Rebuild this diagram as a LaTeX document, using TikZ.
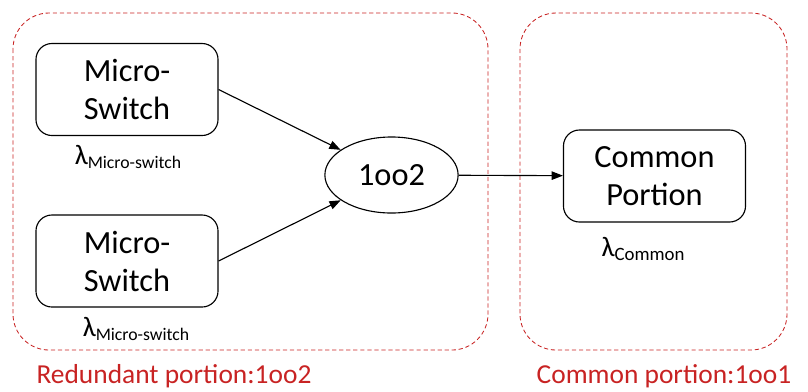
\documentclass[tikz,border=0pt]{standalone}
\usepackage{fontspec}
\setmainfont{Carlito}
\usepackage{tikz}
\usetikzlibrary{positioning}
\usetikzlibrary{shapes}
\usetikzlibrary{arrows.meta}
\definecolor{portred}{RGB}{200,35,35}
\tikzstyle{blk}=[rectangle,rounded corners=4mm,draw=black,line width=0.8pt,minimum width=4.55cm,minimum height=2.3cm,align=center,font=\fontsize{23}{27}\selectfont]
\tikzstyle{vote}=[ellipse,draw=black,line width=0.8pt,minimum width=3.33cm,minimum height=1.9cm,inner sep=0pt,font=\fontsize{23}{27}\selectfont]
\tikzstyle{portion}=[draw=portred,line width=0.6pt,densely dashed,rounded corners=9mm]
\tikzstyle{rate}=[font=\fontsize{20}{24}\selectfont]
\tikzstyle{portlbl}=[text=portred,font=\fontsize{19.5}{24}\selectfont]
\newcommand{\lamsub}[2]{λ\raisebox{-3pt}{\fontsize{#2}{14}\selectfont #1}}

\begin{document}
\begin{tikzpicture}[x=0.025cm,y=-0.025cm]
			\useasboundingbox (0,0) rectangle (808,391);
			% portions
			\draw[portion] (13,13) rectangle (488,350);
			\draw[portion] (520,13) rectangle (787,350);
			\node [portlbl] (redlbl) at (174,376) {Redundant portion:1oo2};
			\node [portlbl] (comlbl) at (664,376) {Common portion:1oo1};
			
			\node [blk] (ms1) at (127,89.5) {Micro-\\Switch};
			\node [blk] (ms2) at (127,261) {Micro-\\Switch};
			\node [vote] (vote) at (391.5,175) {1oo2};
			\node [blk] (com) at (654.5,176) {Common\\Portion};
			
			\node [rate] (lam1) at (128,157) {\lamsub{Micro-switch}{12.6}};
			\node [rate] (lam2) at (136,329) {\lamsub{Micro-switch}{12.6}};
			\node [rate] (lam3) at (643,249) {\lamsub{Common}{13.4}};
			
			\draw[line width=0.8pt,-{Triangle[length=8pt,width=6pt]}] (ms1.east) -- (vote);
			\draw[line width=0.8pt,-{Triangle[length=8pt,width=6pt]}] (ms2.east) -- (vote);
			\draw[line width=0.8pt,-{Triangle[length=8pt,width=6pt]}] (vote) -- (com);
\end{tikzpicture}
\end{document}
